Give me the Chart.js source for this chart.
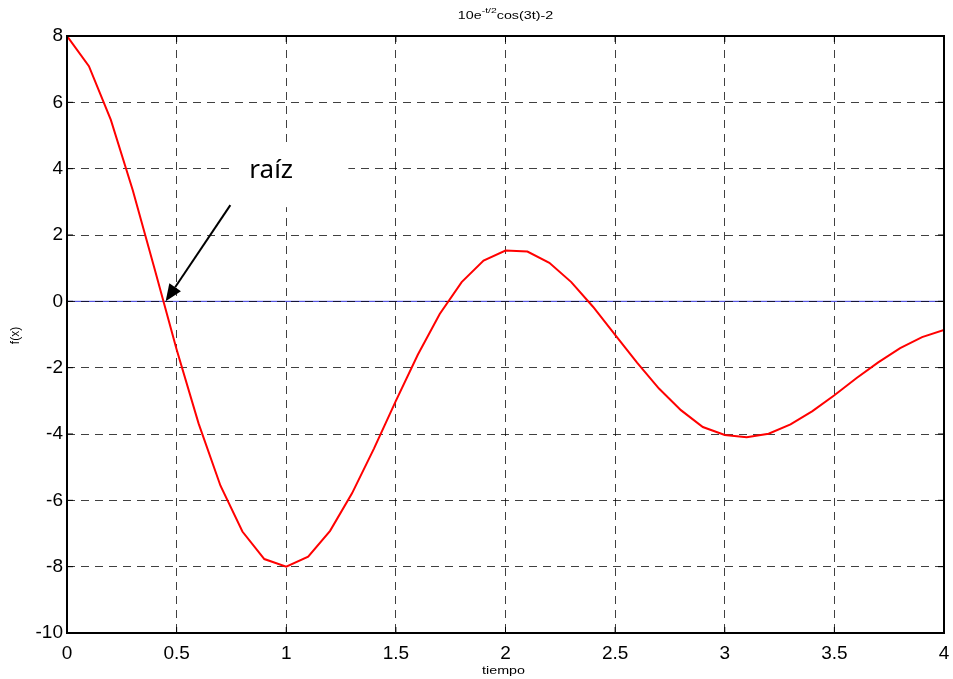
<!DOCTYPE html>
<html>
<head>
<meta charset="utf-8">
<script src="https://cdn.jsdelivr.net/npm/chart.js@4.4.0/dist/chart.umd.min.js"></script>
<style>
  html, body { margin: 0; padding: 0; background: #fff; }
  #graph { width: 953px; height: 679px; }
</style>
</head>
<body>
<div id="graph"><canvas id="chartCanvas" width="953" height="679"></canvas></div>
<script>
var tiempo = [0, 0.1, 0.2, 0.3, 0.4, 0.5, 0.6, 0.7, 0.8, 0.9,
              1, 1.1, 1.2, 1.3, 1.4, 1.5, 1.6, 1.7, 1.8, 1.9,
              2, 2.1, 2.2, 2.3, 2.4, 2.5, 2.6, 2.7, 2.8, 2.9,
              3, 3.1, 3.2, 3.3, 3.4, 3.5, 3.6, 3.7, 3.8, 3.9, 4];
var fx = [8.00, 7.09, 5.47, 3.35, 0.97, -1.45, -3.68, -5.56, -6.94, -7.77,
          -8.00, -7.70, -6.92, -5.79, -4.44, -3.00, -1.61, -0.38, 0.58, 1.23,
          1.53, 1.50, 1.16, 0.58, -0.17, -1.01, -1.85, -2.63, -3.28, -3.79,
          -4.03, -4.10, -3.99, -3.71, -3.31, -2.83, -2.32, -1.84, -1.41, -1.08, -0.86];

// Graduations des axes
var ticksX = [0, 0.5, 1, 1.5, 2, 2.5, 3, 3.5, 4];
var ticksY = [-10, -8, -6, -4, -2, 0, 2, 4, 6, 8];

// Annotation "raíz" (coordonnées dans le repère des données)
var raizTexto = 'raíz';
var raizPunta = { x: 0.45, y: 0 };
var raizInicio = { x: 0.745, y: 2.9 };

var tituloPartes = ['10e', '-t/2', 'cos(3t)-2'];
var etiquetaX = 'tiempo';
var etiquetaY = 'f(x)';

var canvas = document.getElementById('chartCanvas');

// Petit plugin pour tout ce que Chart.js ne dessine pas tel quel
var decorPlugin = {
    id: 'decor',
    beforeDraw: function (chart) {
        var ctx = chart.ctx, a = chart.chartArea;
        var y0 = chart.scales.y.getPixelForValue(0);
        ctx.save();
        ctx.strokeStyle = 'rgb(50,50,220)';
        ctx.lineWidth = 1;
        ctx.beginPath();
        ctx.moveTo(a.left, y0);
        ctx.lineTo(a.right, y0);
        ctx.stroke();
        ctx.restore();
    },
    afterDraw: function (chart) {
        var ctx = chart.ctx, a = chart.chartArea;
        var sx = chart.scales.x, sy = chart.scales.y;
        ctx.save();

        // cadre
        ctx.strokeStyle = '#000';
        ctx.lineWidth = 2;
        ctx.strokeRect(a.left, a.top, a.right - a.left, a.bottom - a.top);

        // petits traits de graduation vers l'intérieur
        ctx.lineWidth = 1;
        ctx.beginPath();
        ticksX.forEach(function (v) {
            var px = sx.getPixelForValue(v);
            ctx.moveTo(px, a.bottom); ctx.lineTo(px, a.bottom - 6);
            ctx.moveTo(px, a.top); ctx.lineTo(px, a.top + 6);
        });
        ticksY.forEach(function (v) {
            var py = sy.getPixelForValue(v);
            ctx.moveTo(a.left, py); ctx.lineTo(a.left + 6, py);
            ctx.moveTo(a.right, py); ctx.lineTo(a.right - 6, py);
        });
        ctx.stroke();

        // boîte blanche + texte "raíz"
        var bx = sx.getPixelForValue(raizInicio.x);
        var by = sy.getPixelForValue(raizInicio.y);
        ctx.fillStyle = '#fff';
        ctx.fillRect(bx - 1, by - 58, 119, 60);
        ctx.fillStyle = '#000';
        ctx.font = '26px "Noto Sans", "Open Sans", sans-serif';
        ctx.textAlign = 'left';
        ctx.textBaseline = 'alphabetic';
        ctx.fillText(raizTexto, bx + 19, by - 27);

        // flèche
        var tx = sx.getPixelForValue(raizPunta.x);
        var ty = sy.getPixelForValue(raizPunta.y);
        var ang = Math.atan2(ty - by, tx - bx);
        var head = 17, half = 7;
        var hx = tx - head * Math.cos(ang), hy = ty - head * Math.sin(ang);
        ctx.strokeStyle = '#000';
        ctx.lineWidth = 2;
        ctx.beginPath();
        ctx.moveTo(bx, by);
        ctx.lineTo(hx, hy);
        ctx.stroke();
        ctx.beginPath();
        ctx.moveTo(tx, ty);
        ctx.lineTo(hx + half * Math.sin(ang), hy - half * Math.cos(ang));
        ctx.lineTo(hx - half * Math.sin(ang), hy + half * Math.cos(ang));
        ctx.closePath();
        ctx.fill();

        // titre avec exposant (figure étirée horizontalement)
        var stretch = 1.3;
        var cx = (a.left + a.right) / 2;
        ctx.font = '11px "Liberation Sans", Arial, sans-serif';
        var w1 = ctx.measureText(tituloPartes[0]).width;
        var w3 = ctx.measureText(tituloPartes[2]).width;
        ctx.font = '8px "Liberation Sans", Arial, sans-serif';
        var w2 = ctx.measureText(tituloPartes[1]).width;
        var total = w1 + w2 + w3;
        ctx.save();
        ctx.translate(cx, 19);
        ctx.scale(stretch, 1);
        var x0 = -total / 2;
        ctx.font = '11px "Liberation Sans", Arial, sans-serif';
        ctx.fillText(tituloPartes[0], x0, 0);
        ctx.font = '8px "Liberation Sans", Arial, sans-serif';
        ctx.fillText(tituloPartes[1], x0 + w1, -6);
        ctx.font = '11px "Liberation Sans", Arial, sans-serif';
        ctx.fillText(tituloPartes[2], x0 + w1 + w2, 0);
        ctx.restore();

        // titre de l'axe x
        ctx.save();
        ctx.translate(cx - 2, 674);
        ctx.scale(stretch, 1);
        ctx.textAlign = 'center';
        ctx.font = '11px "Liberation Sans", Arial, sans-serif';
        ctx.fillText(etiquetaX, 0, 0);
        ctx.restore();

        // titre de l'axe y
        ctx.save();
        ctx.translate(19, (a.top + a.bottom) / 2 + 1);
        ctx.rotate(-Math.PI / 2);
        ctx.textAlign = 'center';
        ctx.font = '12px "Liberation Sans", Arial, sans-serif';
        ctx.fillText(etiquetaY, 0, 0);
        ctx.restore();

        ctx.restore();
    }
};

var gridDash = [8, 6];

var chart = new Chart(canvas, {
    type: 'line',
    data: {
        datasets: [{
            label: 'f(x)',
            data: tiempo.map(function (t, i) { return { x: t, y: fx[i] }; }),
            borderColor: '#ff0000',
            borderWidth: 2,
            pointRadius: 0,
            tension: 0,
            fill: false
        }]
    },
    options: {
        responsive: false,
        animation: false,
        layout: { padding: { top: 36, right: 9, left: 0, bottom: 0 } },
        plugins: {
            legend: { display: false },
            title: { display: false },
            tooltip: { enabled: false }
        },
        scales: {
            x: {
                type: 'linear',
                min: 0,
                max: 4,
                afterBuildTicks: function (s) { s.ticks = ticksX.map(function (v) { return { value: v }; }); },
                afterFit: function (s) { s.height = 46; s.paddingLeft = 0; s.paddingRight = 0; },
                grid: { color: 'rgba(0,0,0,0.75)', lineWidth: 1, drawTicks: false },
                border: { display: false, dash: gridDash },
                ticks: {
                    color: '#000',
                    padding: 9,
                    maxRotation: 0,
                    autoSkip: false,
                    font: { family: '"Liberation Sans", Arial, sans-serif', size: 19 },
                    callback: function (v) { return String(v); }
                }
            },
            y: {
                type: 'linear',
                min: -10,
                max: 8,
                afterBuildTicks: function (s) { s.ticks = ticksY.map(function (v) { return { value: v }; }); },
                afterFit: function (s) { s.width = 67; },
                grid: { color: 'rgba(0,0,0,0.75)', lineWidth: 1, drawTicks: false },
                border: { display: false, dash: gridDash },
                ticks: {
                    color: '#000',
                    padding: 4,
                    autoSkip: false,
                    font: { family: '"Liberation Sans", Arial, sans-serif', size: 19 },
                    callback: function (v) { return String(v); }
                }
            }
        }
    },
    plugins: [decorPlugin]
});
</script>
</body>
</html>
